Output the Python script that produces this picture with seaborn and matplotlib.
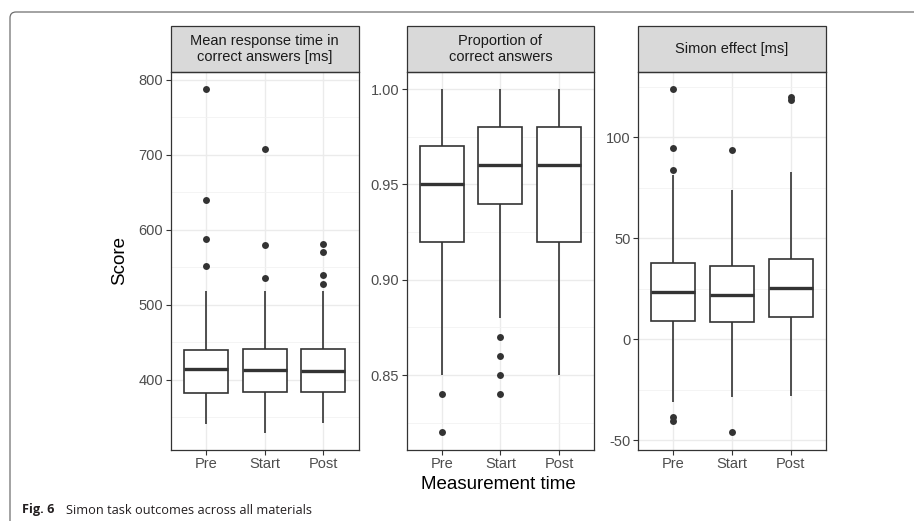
import numpy as np
import pandas as pd
import matplotlib
matplotlib.use("Agg")
import matplotlib.pyplot as plt
from matplotlib.patches import Rectangle, FancyBboxPatch
from matplotlib.ticker import MultipleLocator, FixedLocator, FormatStrFormatter
import seaborn as sns

# Measurement times (x categories)
times = ["Pre", "Start", "Post"]

# Mean response time in correct answers [ms]: box summaries per time
rt_low = [341, 329, 342]
rt_q1 = [382, 384, 384]
rt_median = [414, 413, 411]
rt_q3 = [439, 441, 441]
rt_high = [518, 518, 518]
rt_outliers = [[788, 640, 588, 552], [708, 580, 536], [581, 570, 540, 528]]

# Proportion of correct answers
prop_low = [0.85, 0.88, 0.85]
prop_q1 = [0.92, 0.94, 0.92]
prop_median = [0.95, 0.96, 0.96]
prop_q3 = [0.97, 0.98, 0.98]
prop_high = [1.00, 1.00, 1.00]
prop_outliers = [[0.84, 0.82], [0.87, 0.86, 0.85, 0.84], []]

# Simon effect [ms]
simon_low = [-31, -28.5, -28]
simon_q1 = [9, 8.5, 11]
simon_median = [23.5, 22, 25.5]
simon_q3 = [38, 36.5, 40]
simon_high = [81.5, 74, 83]
simon_outliers = [[124, 95, 84, -38.5, -40.5], [94, -46], [120, 118.5]]

panel_titles = ["Mean response time in\ncorrect answers [ms]",
                "Proportion of\ncorrect answers",
                "Simon effect [ms]"]
panel_ticks = [[400, 500, 600, 700, 800],
               [0.85, 0.90, 0.95, 1.00],
               [-50, 0, 50, 100]]
panel_ylims = [(307, 810), (0.811, 1.009), (-54.6, 132.4)]

panels = [
    (rt_low, rt_q1, rt_median, rt_q3, rt_high, rt_outliers),
    (prop_low, prop_q1, prop_median, prop_q3, prop_high, prop_outliers),
    (simon_low, simon_q1, simon_median, simon_q3, simon_high, simon_outliers),
]

sns.set_theme(style="whitegrid")
plt.rcParams["font.family"] = ["Liberation Sans", "DejaVu Sans"]
plt.rcParams["axes.unicode_minus"] = False

W, H = 914, 521
fig = plt.figure(figsize=(W / 100, H / 100), dpi=100)
fig.patch.set_facecolor("white")

# outer figure frame with rounded corner
frame = FancyBboxPatch((0.10, -1.0), 12.0, (H - 12) / 100 + 1.0,
                       boxstyle="round,pad=0,rounding_size=0.06",
                       transform=fig.dpi_scale_trans, fill=False,
                       edgecolor="#6E6E6E", linewidth=0.9)
fig.add_artist(frame)

ink = "#333333"
panel_left = [171, 406.7, 638.3]
panel_w = 187.5
top_px, bot_px = 72, 449.5
strip_h = 46
ax_h = bot_px - top_px

for i, (low, q1, med, q3, high, outs) in enumerate(panels):
    ax = fig.add_axes([panel_left[i] / W, 1 - bot_px / H, panel_w / W, ax_h / H])
    ax.set_axisbelow(True)

    # five-number table per time point; whiskers span min..max
    box_df = pd.DataFrame({
        "time": np.repeat(times, 5),
        "score": np.ravel(np.column_stack([low, q1, med, q3, high])),
    })
    out_df = pd.DataFrame({
        "time": [t for t, o in zip(times, outs) for _ in o],
        "score": [v for o in outs for v in o],
    })

    sns.boxplot(data=box_df, x="time", y="score", order=times, ax=ax,
                width=0.75, whis=np.inf, showfliers=False, showcaps=False,
                color="white", linecolor=ink, linewidth=1.2,
                medianprops=dict(linewidth=2.4, color=ink))
    sns.stripplot(data=out_df, x="time", y="score", order=times, ax=ax,
                  jitter=False, color=ink, size=5, linewidth=0, zorder=3)

    ax.set_xlim(-0.6, 2.6)
    ax.set_ylim(*panel_ylims[i])
    ticks = panel_ticks[i]
    step = ticks[1] - ticks[0]
    ax.yaxis.set_major_locator(FixedLocator(ticks))
    ax.yaxis.set_minor_locator(MultipleLocator(step / 2))
    if i == 1:
        ax.yaxis.set_major_formatter(FormatStrFormatter("%.2f"))
    else:
        ax.yaxis.set_major_formatter(FormatStrFormatter("%d"))

    ax.grid(which="major", axis="both", color="#EBEBEB", linewidth=1.0)
    ax.grid(which="minor", axis="y", color="#F2F2F2", linewidth=0.6)
    ax.grid(which="minor", axis="x", visible=False)
    ax.tick_params(which="major", length=3.5, width=0.8, color=ink,
                   labelcolor="#4D4D4D", labelsize=10.5, pad=2,
                   direction="out", bottom=True, left=True)
    ax.tick_params(which="minor", length=0)
    for sp in ax.spines.values():
        sp.set_visible(True)
        sp.set_color(ink)
        sp.set_linewidth(0.9)
    ax.set_xlabel("")
    ax.set_ylabel("")

    # facet strip
    sh = strip_h / ax_h
    ax.add_patch(Rectangle((0, 1), 1, sh, transform=ax.transAxes,
                           clip_on=False, facecolor="#D9D9D9",
                           edgecolor=ink, linewidth=0.9))
    ax.text(0.5, 1 + sh / 2, panel_titles[i], transform=ax.transAxes,
            ha="center", va="center", fontsize=10.5, color="#1A1A1A",
            linespacing=1.1)

fig.text(120 / W, 1 - 260.5 / H, "Score", rotation=90, ha="center",
         va="center", fontsize=13.5, color="black")
fig.text(498 / W, 1 - 484.3 / H, "Measurement time", ha="center",
         va="center", fontsize=13.5, color="black")

# caption
fig.text(22 / W, 1 - 510 / H, "Fig. 6", ha="left", va="center",
         fontsize=9.2, fontweight="bold", family="Open Sans", color="#231F20")
fig.text(66 / W, 1 - 510 / H, "Simon task outcomes across all materials",
         ha="left", va="center", fontsize=9.2, family="Open Sans",
         color="#231F20")

fig.savefig("out.png", dpi=100, facecolor="white")
